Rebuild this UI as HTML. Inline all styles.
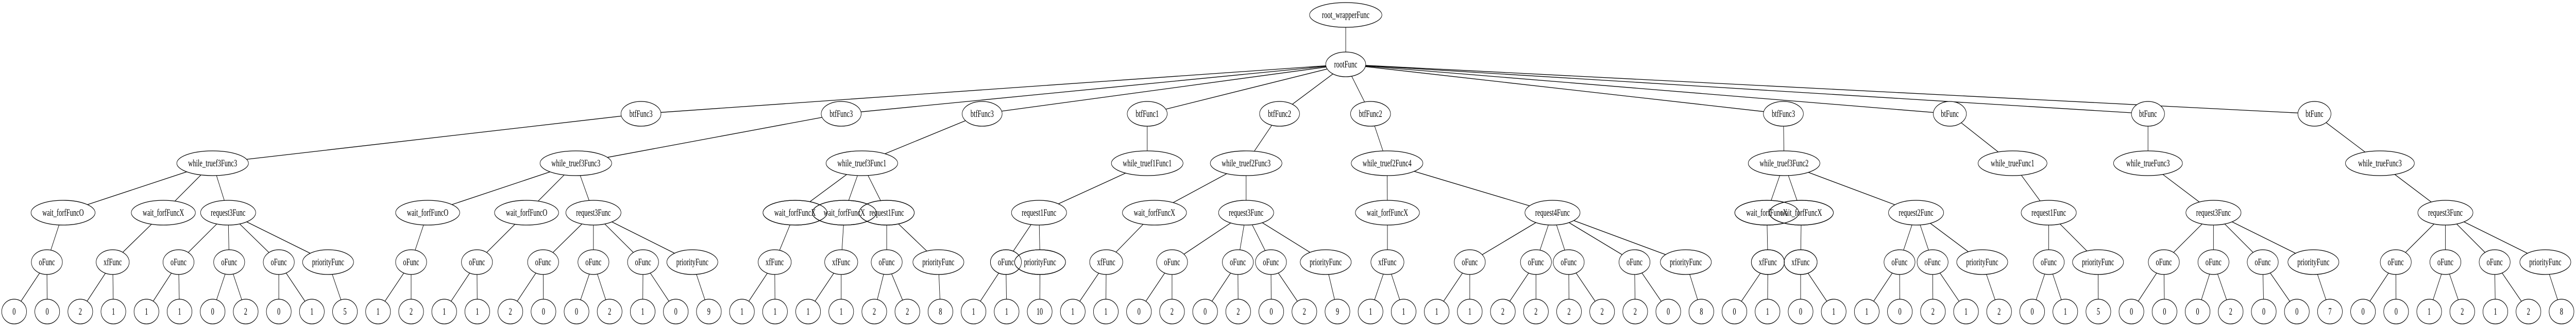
<!DOCTYPE html>
<html><head><meta charset="utf-8"><style>
html,body{margin:0;padding:0;background:#fff;width:100%;height:100%;overflow:hidden}
svg{display:block;width:100vw;height:100vh}
</style></head><body>
<svg xmlns="http://www.w3.org/2000/svg" viewBox="0 0 7475 635" preserveAspectRatio="none">
<rect width="7475" height="635" fill="#fff"/>
<g stroke="#000" stroke-width="1.3">
<line x1="3905" y1="29" x2="3905" y2="125"/>
<line x1="3905" y1="125" x2="1860" y2="221"/><line x1="3905" y1="125" x2="2441" y2="221"/><line x1="3905" y1="125" x2="2850" y2="221"/><line x1="3905" y1="125" x2="3329" y2="221"/><line x1="3905" y1="125" x2="3713" y2="221"/><line x1="3905" y1="125" x2="3977" y2="221"/><line x1="3905" y1="125" x2="5175" y2="221"/><line x1="3905" y1="125" x2="5658" y2="221"/><line x1="3905" y1="125" x2="6233" y2="221"/><line x1="3905" y1="125" x2="6716" y2="221"/>
<line x1="1860" y1="221" x2="617" y2="317"/><line x1="2441" y1="221" x2="1671" y2="317"/><line x1="2850" y1="221" x2="2501" y2="317"/><line x1="3329" y1="221" x2="3329" y2="317"/><line x1="3713" y1="221" x2="3616" y2="317"/><line x1="3977" y1="221" x2="4025" y2="317"/><line x1="5175" y1="221" x2="5177" y2="317"/><line x1="5658" y1="221" x2="5840" y2="317"/><line x1="6233" y1="221" x2="6233" y2="317"/><line x1="6716" y1="221" x2="6906" y2="317"/>
<line x1="617" y1="317" x2="183" y2="413"/><line x1="617" y1="317" x2="474" y2="413"/><line x1="617" y1="317" x2="662" y2="413"/>
<line x1="1671" y1="317" x2="1241" y2="413"/><line x1="1671" y1="317" x2="1528" y2="413"/><line x1="1671" y1="317" x2="1722" y2="413"/>
<line x1="2501" y1="317" x2="2307" y2="413"/><line x1="2501" y1="317" x2="2450" y2="413"/><line x1="2501" y1="317" x2="2573" y2="413"/>
<line x1="3329" y1="317" x2="3015" y2="413"/>
<line x1="3616" y1="317" x2="3350" y2="413"/><line x1="3616" y1="317" x2="3616" y2="413"/>
<line x1="4025" y1="317" x2="4026" y2="413"/><line x1="4025" y1="317" x2="4505" y2="413"/>
<line x1="5177" y1="317" x2="5127" y2="413"/><line x1="5177" y1="317" x2="5227" y2="413"/><line x1="5177" y1="317" x2="5560" y2="413"/>
<line x1="5840" y1="317" x2="5945" y2="413"/><line x1="6233" y1="317" x2="6423" y2="413"/><line x1="6906" y1="317" x2="7096" y2="413"/>
<line x1="183" y1="413" x2="136" y2="509"/><line x1="474" y1="413" x2="327" y2="509"/>
<line x1="662" y1="413" x2="518" y2="509"/><line x1="662" y1="413" x2="665" y2="509"/><line x1="662" y1="413" x2="809" y2="509"/><line x1="662" y1="413" x2="952" y2="509"/>
<line x1="1241" y1="413" x2="1193" y2="509"/><line x1="1528" y1="413" x2="1384" y2="509"/>
<line x1="1722" y1="413" x2="1576" y2="509"/><line x1="1722" y1="413" x2="1722" y2="509"/><line x1="1722" y1="413" x2="1866" y2="509"/><line x1="1722" y1="413" x2="2009" y2="509"/>
<line x1="2307" y1="413" x2="2248" y2="509"/><line x1="2450" y1="413" x2="2441" y2="509"/>
<line x1="2573" y1="413" x2="2573" y2="509"/><line x1="2573" y1="413" x2="2723" y2="509"/>
<line x1="3015" y1="413" x2="2919" y2="509"/><line x1="3015" y1="413" x2="3018" y2="509"/>
<line x1="3350" y1="413" x2="3210" y2="509"/>
<line x1="3616" y1="413" x2="3401" y2="509"/><line x1="3616" y1="413" x2="3592" y2="509"/><line x1="3616" y1="413" x2="3688" y2="509"/><line x1="3616" y1="413" x2="3847" y2="509"/>
<line x1="4026" y1="413" x2="4026" y2="509"/>
<line x1="4505" y1="413" x2="4265" y2="509"/><line x1="4505" y1="413" x2="4457" y2="509"/><line x1="4505" y1="413" x2="4552" y2="509"/><line x1="4505" y1="413" x2="4743" y2="509"/><line x1="4505" y1="413" x2="4892" y2="509"/>
<line x1="5127" y1="413" x2="5130" y2="509"/><line x1="5227" y1="413" x2="5225" y2="509"/>
<line x1="5560" y1="413" x2="5512" y2="509"/><line x1="5560" y1="413" x2="5608" y2="509"/><line x1="5560" y1="413" x2="5752" y2="509"/>
<line x1="5945" y1="413" x2="5945" y2="509"/><line x1="5945" y1="413" x2="6088" y2="509"/>
<line x1="6423" y1="413" x2="6279" y2="509"/><line x1="6423" y1="413" x2="6423" y2="509"/><line x1="6423" y1="413" x2="6566" y2="509"/><line x1="6423" y1="413" x2="6713" y2="509"/>
<line x1="7096" y1="413" x2="6952" y2="509"/><line x1="7096" y1="413" x2="7096" y2="509"/><line x1="7096" y1="413" x2="7239" y2="509"/><line x1="7096" y1="413" x2="7386" y2="509"/>
<line x1="136" y1="509" x2="41" y2="605"/><line x1="136" y1="509" x2="137" y2="605"/>
<line x1="327" y1="509" x2="233" y2="605"/><line x1="327" y1="509" x2="329" y2="605"/>
<line x1="518" y1="509" x2="425" y2="605"/><line x1="518" y1="509" x2="521" y2="605"/>
<line x1="665" y1="509" x2="617" y2="605"/><line x1="665" y1="509" x2="713" y2="605"/>
<line x1="809" y1="509" x2="809" y2="605"/><line x1="809" y1="509" x2="905" y2="605"/>
<line x1="952" y1="509" x2="1001" y2="605"/>
<line x1="1193" y1="509" x2="1097" y2="605"/><line x1="1193" y1="509" x2="1193" y2="605"/>
<line x1="1384" y1="509" x2="1289" y2="605"/><line x1="1384" y1="509" x2="1385" y2="605"/>
<line x1="1576" y1="509" x2="1481" y2="605"/><line x1="1576" y1="509" x2="1577" y2="605"/>
<line x1="1722" y1="509" x2="1673" y2="605"/><line x1="1722" y1="509" x2="1769" y2="605"/>
<line x1="1866" y1="509" x2="1865" y2="605"/><line x1="1866" y1="509" x2="1961" y2="605"/>
<line x1="2009" y1="509" x2="2057" y2="605"/>
<line x1="2248" y1="509" x2="2153" y2="605"/><line x1="2248" y1="509" x2="2249" y2="605"/>
<line x1="2441" y1="509" x2="2345" y2="605"/><line x1="2441" y1="509" x2="2441" y2="605"/>
<line x1="2573" y1="509" x2="2537" y2="605"/><line x1="2573" y1="509" x2="2633" y2="605"/>
<line x1="2723" y1="509" x2="2729" y2="605"/>
<line x1="2919" y1="509" x2="2825" y2="605"/><line x1="2919" y1="509" x2="2921" y2="605"/>
<line x1="3018" y1="509" x2="3017" y2="605"/>
<line x1="3210" y1="509" x2="3113" y2="605"/><line x1="3210" y1="509" x2="3209" y2="605"/>
<line x1="3401" y1="509" x2="3305" y2="605"/><line x1="3401" y1="509" x2="3401" y2="605"/>
<line x1="3592" y1="509" x2="3497" y2="605"/><line x1="3592" y1="509" x2="3593" y2="605"/>
<line x1="3688" y1="509" x2="3689" y2="605"/><line x1="3688" y1="509" x2="3785" y2="605"/>
<line x1="3847" y1="509" x2="3881" y2="605"/>
<line x1="4026" y1="509" x2="3977" y2="605"/><line x1="4026" y1="509" x2="4073" y2="605"/>
<line x1="4265" y1="509" x2="4169" y2="605"/><line x1="4265" y1="509" x2="4265" y2="605"/>
<line x1="4457" y1="509" x2="4361" y2="605"/><line x1="4457" y1="509" x2="4457" y2="605"/>
<line x1="4552" y1="509" x2="4553" y2="605"/><line x1="4552" y1="509" x2="4649" y2="605"/>
<line x1="4743" y1="509" x2="4745" y2="605"/><line x1="4743" y1="509" x2="4841" y2="605"/>
<line x1="4892" y1="509" x2="4937" y2="605"/>
<line x1="5130" y1="509" x2="5033" y2="605"/><line x1="5130" y1="509" x2="5129" y2="605"/>
<line x1="5225" y1="509" x2="5225" y2="605"/><line x1="5225" y1="509" x2="5321" y2="605"/>
<line x1="5512" y1="509" x2="5417" y2="605"/><line x1="5512" y1="509" x2="5513" y2="605"/>
<line x1="5608" y1="509" x2="5609" y2="605"/><line x1="5608" y1="509" x2="5705" y2="605"/>
<line x1="5752" y1="509" x2="5801" y2="605"/>
<line x1="5945" y1="509" x2="5897" y2="605"/><line x1="5945" y1="509" x2="5993" y2="605"/>
<line x1="6088" y1="509" x2="6089" y2="605"/>
<line x1="6279" y1="509" x2="6185" y2="605"/><line x1="6279" y1="509" x2="6281" y2="605"/>
<line x1="6423" y1="509" x2="6377" y2="605"/><line x1="6423" y1="509" x2="6473" y2="605"/>
<line x1="6566" y1="509" x2="6569" y2="605"/><line x1="6566" y1="509" x2="6665" y2="605"/>
<line x1="6713" y1="509" x2="6761" y2="605"/>
<line x1="6952" y1="509" x2="6857" y2="605"/><line x1="6952" y1="509" x2="6953" y2="605"/>
<line x1="7096" y1="509" x2="7049" y2="605"/><line x1="7096" y1="509" x2="7145" y2="605"/>
<line x1="7239" y1="509" x2="7241" y2="605"/><line x1="7239" y1="509" x2="7337" y2="605"/>
<line x1="7386" y1="509" x2="7433" y2="605"/>
</g>
<g fill="#fff" stroke="#000" stroke-width="1.3">
<ellipse cx="3905" cy="29" rx="105" ry="24"/>
<ellipse cx="3905" cy="125" rx="58" ry="24"/>
<ellipse cx="1860" cy="221" rx="58" ry="24"/><ellipse cx="2441" cy="221" rx="58" ry="24"/><ellipse cx="2850" cy="221" rx="58" ry="24"/><ellipse cx="3329" cy="221" rx="58" ry="24"/><ellipse cx="3713" cy="221" rx="58" ry="24"/><ellipse cx="3977" cy="221" rx="58" ry="24"/><ellipse cx="5175" cy="221" rx="58" ry="24"/><ellipse cx="5658" cy="221" rx="48" ry="24"/><ellipse cx="6233" cy="221" rx="48" ry="24"/><ellipse cx="6716" cy="221" rx="48" ry="24"/>
<ellipse cx="617" cy="317" rx="104" ry="24"/><ellipse cx="1671" cy="317" rx="104" ry="24"/><ellipse cx="2501" cy="317" rx="104" ry="24"/><ellipse cx="3329" cy="317" rx="104" ry="24"/><ellipse cx="3616" cy="317" rx="104" ry="24"/><ellipse cx="4025" cy="317" rx="104" ry="24"/><ellipse cx="5177" cy="317" rx="104" ry="24"/><ellipse cx="5840" cy="317" rx="100" ry="24"/><ellipse cx="6233" cy="317" rx="100" ry="24"/><ellipse cx="6906" cy="317" rx="100" ry="24"/>
<ellipse cx="183" cy="413" rx="93" ry="24"/><ellipse cx="474" cy="413" rx="93" ry="24"/><ellipse cx="662" cy="413" rx="80" ry="24"/>
<ellipse cx="1241" cy="413" rx="93" ry="24"/><ellipse cx="1528" cy="413" rx="93" ry="24"/><ellipse cx="1722" cy="413" rx="80" ry="24"/>
<ellipse cx="2307" cy="413" rx="93" ry="24"/><ellipse cx="2450" cy="413" rx="93" ry="24"/><ellipse cx="2573" cy="413" rx="80" ry="24"/>
<ellipse cx="3015" cy="413" rx="80" ry="24"/><ellipse cx="3350" cy="413" rx="93" ry="24"/><ellipse cx="3616" cy="413" rx="80" ry="24"/>
<ellipse cx="4026" cy="413" rx="93" ry="24"/><ellipse cx="4505" cy="413" rx="80" ry="24"/>
<ellipse cx="5127" cy="413" rx="93" ry="24"/><ellipse cx="5227" cy="413" rx="93" ry="24"/><ellipse cx="5560" cy="413" rx="80" ry="24"/>
<ellipse cx="5945" cy="413" rx="80" ry="24"/><ellipse cx="6423" cy="413" rx="80" ry="24"/><ellipse cx="7096" cy="413" rx="80" ry="24"/>
<ellipse cx="136" cy="509" rx="45" ry="24"/><ellipse cx="327" cy="509" rx="48" ry="24"/><ellipse cx="518" cy="509" rx="45" ry="24"/><ellipse cx="665" cy="509" rx="45" ry="24"/><ellipse cx="809" cy="509" rx="45" ry="24"/><ellipse cx="952" cy="509" rx="74" ry="24"/>
<ellipse cx="1193" cy="509" rx="45" ry="24"/><ellipse cx="1384" cy="509" rx="45" ry="24"/><ellipse cx="1576" cy="509" rx="45" ry="24"/><ellipse cx="1722" cy="509" rx="45" ry="24"/><ellipse cx="1866" cy="509" rx="45" ry="24"/><ellipse cx="2009" cy="509" rx="74" ry="24"/>
<ellipse cx="2248" cy="509" rx="48" ry="24"/><ellipse cx="2441" cy="509" rx="48" ry="24"/><ellipse cx="2573" cy="509" rx="45" ry="24"/><ellipse cx="2723" cy="509" rx="74" ry="24"/>
<ellipse cx="2919" cy="509" rx="45" ry="24"/><ellipse cx="3018" cy="509" rx="74" ry="24"/><ellipse cx="3210" cy="509" rx="48" ry="24"/>
<ellipse cx="3401" cy="509" rx="45" ry="24"/><ellipse cx="3592" cy="509" rx="45" ry="24"/><ellipse cx="3688" cy="509" rx="45" ry="24"/><ellipse cx="3847" cy="509" rx="74" ry="24"/>
<ellipse cx="4026" cy="509" rx="48" ry="24"/><ellipse cx="4265" cy="509" rx="45" ry="24"/><ellipse cx="4457" cy="509" rx="45" ry="24"/><ellipse cx="4552" cy="509" rx="45" ry="24"/><ellipse cx="4743" cy="509" rx="45" ry="24"/><ellipse cx="4892" cy="509" rx="74" ry="24"/>
<ellipse cx="5130" cy="509" rx="48" ry="24"/><ellipse cx="5225" cy="509" rx="48" ry="24"/><ellipse cx="5512" cy="509" rx="45" ry="24"/><ellipse cx="5608" cy="509" rx="45" ry="24"/><ellipse cx="5752" cy="509" rx="74" ry="24"/>
<ellipse cx="5945" cy="509" rx="45" ry="24"/><ellipse cx="6088" cy="509" rx="74" ry="24"/>
<ellipse cx="6279" cy="509" rx="45" ry="24"/><ellipse cx="6423" cy="509" rx="45" ry="24"/><ellipse cx="6566" cy="509" rx="45" ry="24"/><ellipse cx="6713" cy="509" rx="74" ry="24"/>
<ellipse cx="6952" cy="509" rx="45" ry="24"/><ellipse cx="7096" cy="509" rx="45" ry="24"/><ellipse cx="7239" cy="509" rx="45" ry="24"/><ellipse cx="7386" cy="509" rx="74" ry="24"/>
</g>
<g fill="#fff" stroke="#000" stroke-width="1.3">
<ellipse cx="41" cy="605" rx="36" ry="24"/><ellipse cx="137" cy="605" rx="36" ry="24"/><ellipse cx="233" cy="605" rx="36" ry="24"/><ellipse cx="329" cy="605" rx="36" ry="24"/><ellipse cx="425" cy="605" rx="36" ry="24"/><ellipse cx="521" cy="605" rx="36" ry="24"/><ellipse cx="617" cy="605" rx="36" ry="24"/><ellipse cx="713" cy="605" rx="36" ry="24"/><ellipse cx="809" cy="605" rx="36" ry="24"/><ellipse cx="905" cy="605" rx="36" ry="24"/>
<ellipse cx="1001" cy="605" rx="36" ry="24"/><ellipse cx="1097" cy="605" rx="36" ry="24"/><ellipse cx="1193" cy="605" rx="36" ry="24"/><ellipse cx="1289" cy="605" rx="36" ry="24"/><ellipse cx="1385" cy="605" rx="36" ry="24"/><ellipse cx="1481" cy="605" rx="36" ry="24"/><ellipse cx="1577" cy="605" rx="36" ry="24"/><ellipse cx="1673" cy="605" rx="36" ry="24"/><ellipse cx="1769" cy="605" rx="36" ry="24"/><ellipse cx="1865" cy="605" rx="36" ry="24"/>
<ellipse cx="1961" cy="605" rx="36" ry="24"/><ellipse cx="2057" cy="605" rx="36" ry="24"/><ellipse cx="2153" cy="605" rx="36" ry="24"/><ellipse cx="2249" cy="605" rx="36" ry="24"/><ellipse cx="2345" cy="605" rx="36" ry="24"/><ellipse cx="2441" cy="605" rx="36" ry="24"/><ellipse cx="2537" cy="605" rx="36" ry="24"/><ellipse cx="2633" cy="605" rx="36" ry="24"/><ellipse cx="2729" cy="605" rx="36" ry="24"/><ellipse cx="2825" cy="605" rx="36" ry="24"/>
<ellipse cx="2921" cy="605" rx="36" ry="24"/><ellipse cx="3017" cy="605" rx="36" ry="24"/><ellipse cx="3113" cy="605" rx="36" ry="24"/><ellipse cx="3209" cy="605" rx="36" ry="24"/><ellipse cx="3305" cy="605" rx="36" ry="24"/><ellipse cx="3401" cy="605" rx="36" ry="24"/><ellipse cx="3497" cy="605" rx="36" ry="24"/><ellipse cx="3593" cy="605" rx="36" ry="24"/><ellipse cx="3689" cy="605" rx="36" ry="24"/><ellipse cx="3785" cy="605" rx="36" ry="24"/>
<ellipse cx="3881" cy="605" rx="36" ry="24"/><ellipse cx="3977" cy="605" rx="36" ry="24"/><ellipse cx="4073" cy="605" rx="36" ry="24"/><ellipse cx="4169" cy="605" rx="36" ry="24"/><ellipse cx="4265" cy="605" rx="36" ry="24"/><ellipse cx="4361" cy="605" rx="36" ry="24"/><ellipse cx="4457" cy="605" rx="36" ry="24"/><ellipse cx="4553" cy="605" rx="36" ry="24"/><ellipse cx="4649" cy="605" rx="36" ry="24"/><ellipse cx="4745" cy="605" rx="36" ry="24"/>
<ellipse cx="4841" cy="605" rx="36" ry="24"/><ellipse cx="4937" cy="605" rx="36" ry="24"/><ellipse cx="5033" cy="605" rx="36" ry="24"/><ellipse cx="5129" cy="605" rx="36" ry="24"/><ellipse cx="5225" cy="605" rx="36" ry="24"/><ellipse cx="5321" cy="605" rx="36" ry="24"/><ellipse cx="5417" cy="605" rx="36" ry="24"/><ellipse cx="5513" cy="605" rx="36" ry="24"/><ellipse cx="5609" cy="605" rx="36" ry="24"/><ellipse cx="5705" cy="605" rx="36" ry="24"/>
<ellipse cx="5801" cy="605" rx="36" ry="24"/><ellipse cx="5897" cy="605" rx="36" ry="24"/><ellipse cx="5993" cy="605" rx="36" ry="24"/><ellipse cx="6089" cy="605" rx="36" ry="24"/><ellipse cx="6185" cy="605" rx="36" ry="24"/><ellipse cx="6281" cy="605" rx="36" ry="24"/><ellipse cx="6377" cy="605" rx="36" ry="24"/><ellipse cx="6473" cy="605" rx="36" ry="24"/><ellipse cx="6569" cy="605" rx="36" ry="24"/><ellipse cx="6665" cy="605" rx="36" ry="24"/>
<ellipse cx="6761" cy="605" rx="36" ry="24"/><ellipse cx="6857" cy="605" rx="36" ry="24"/><ellipse cx="6953" cy="605" rx="36" ry="24"/><ellipse cx="7049" cy="605" rx="36" ry="24"/><ellipse cx="7145" cy="605" rx="36" ry="24"/><ellipse cx="7241" cy="605" rx="36" ry="24"/><ellipse cx="7337" cy="605" rx="36" ry="24"/><ellipse cx="7433" cy="605" rx="36" ry="24"/>
</g>
<g fill="none" stroke="#000" stroke-width="1.3">
<ellipse cx="2307" cy="413" rx="93" ry="24"/><ellipse cx="2450" cy="413" rx="93" ry="24"/><ellipse cx="2573" cy="413" rx="80" ry="24"/>
<ellipse cx="5127" cy="413" rx="93" ry="24"/><ellipse cx="5227" cy="413" rx="93" ry="24"/>
<ellipse cx="2919" cy="509" rx="45" ry="24"/><ellipse cx="3018" cy="509" rx="74" ry="24"/>
<ellipse cx="5130" cy="509" rx="48" ry="24"/><ellipse cx="5225" cy="509" rx="48" ry="24"/>
</g>
<g font-family="'Liberation Serif', 'DejaVu Serif', serif" font-size="18.67" text-anchor="middle" fill="#000">
<text x="3905" y="35">root_wrapperFunc</text>
<text x="3905" y="131">rootFunc</text>
<text x="1860" y="227">btfFunc3</text><text x="2441" y="227">btfFunc3</text><text x="2850" y="227">btfFunc3</text><text x="3329" y="227">btfFunc1</text><text x="3713" y="227">btfFunc2</text><text x="3977" y="227">btfFunc2</text><text x="5175" y="227">btfFunc3</text><text x="5658" y="227">btFunc</text><text x="6233" y="227">btFunc</text><text x="6716" y="227">btFunc</text>
<text x="617" y="323">while_truef3Func3</text><text x="1671" y="323">while_truef3Func3</text><text x="2501" y="323">while_truef3Func1</text><text x="3329" y="323">while_truef1Func1</text><text x="3616" y="323">while_truef2Func3</text><text x="4025" y="323">while_truef2Func4</text><text x="5177" y="323">while_truef3Func2</text><text x="5840" y="323">while_trueFunc1</text><text x="6233" y="323">while_trueFunc3</text><text x="6906" y="323">while_trueFunc3</text>
<text x="183" y="419">wait_forfFuncO</text><text x="474" y="419">wait_forfFuncX</text><text x="662" y="419">request3Func</text>
<text x="1241" y="419">wait_forfFuncO</text><text x="1528" y="419">wait_forfFuncO</text><text x="1722" y="419">request3Func</text>
<text x="2307" y="419">wait_forfFuncX</text><text x="2450" y="419">wait_forfFuncX</text><text x="2573" y="419">request1Func</text>
<text x="3015" y="419">request1Func</text><text x="3350" y="419">wait_forfFuncX</text><text x="3616" y="419">request3Func</text>
<text x="4026" y="419">wait_forfFuncX</text><text x="4505" y="419">request4Func</text>
<text x="5127" y="419">wait_forfFuncX</text><text x="5227" y="419">wait_forfFuncX</text><text x="5560" y="419">request2Func</text>
<text x="5945" y="419">request1Func</text><text x="6423" y="419">request3Func</text><text x="7096" y="419">request3Func</text>
<text x="136" y="515">oFunc</text><text x="327" y="515">xfFunc</text><text x="518" y="515">oFunc</text><text x="665" y="515">oFunc</text><text x="809" y="515">oFunc</text><text x="952" y="515">priorityFunc</text>
<text x="1193" y="515">oFunc</text><text x="1384" y="515">oFunc</text><text x="1576" y="515">oFunc</text><text x="1722" y="515">oFunc</text><text x="1866" y="515">oFunc</text><text x="2009" y="515">priorityFunc</text>
<text x="2248" y="515">xfFunc</text><text x="2441" y="515">xfFunc</text><text x="2573" y="515">oFunc</text><text x="2723" y="515">priorityFunc</text>
<text x="2919" y="515">oFunc</text><text x="3018" y="515">priorityFunc</text><text x="3210" y="515">xfFunc</text>
<text x="3401" y="515">oFunc</text><text x="3592" y="515">oFunc</text><text x="3688" y="515">oFunc</text><text x="3847" y="515">priorityFunc</text>
<text x="4026" y="515">xfFunc</text><text x="4265" y="515">oFunc</text><text x="4457" y="515">oFunc</text><text x="4552" y="515">oFunc</text><text x="4743" y="515">oFunc</text><text x="4892" y="515">priorityFunc</text>
<text x="5130" y="515">xfFunc</text><text x="5225" y="515">xfFunc</text><text x="5512" y="515">oFunc</text><text x="5608" y="515">oFunc</text><text x="5752" y="515">priorityFunc</text>
<text x="5945" y="515">oFunc</text><text x="6088" y="515">priorityFunc</text>
<text x="6279" y="515">oFunc</text><text x="6423" y="515">oFunc</text><text x="6566" y="515">oFunc</text><text x="6713" y="515">priorityFunc</text>
<text x="6952" y="515">oFunc</text><text x="7096" y="515">oFunc</text><text x="7239" y="515">oFunc</text><text x="7386" y="515">priorityFunc</text>
<text x="41" y="611">0</text><text x="137" y="611">0</text><text x="233" y="611">2</text><text x="329" y="611">1</text><text x="425" y="611">1</text><text x="521" y="611">1</text><text x="617" y="611">0</text><text x="713" y="611">2</text><text x="809" y="611">0</text><text x="905" y="611">1</text>
<text x="1001" y="611">5</text><text x="1097" y="611">1</text><text x="1193" y="611">2</text><text x="1289" y="611">1</text><text x="1385" y="611">1</text><text x="1481" y="611">2</text><text x="1577" y="611">0</text><text x="1673" y="611">0</text><text x="1769" y="611">2</text><text x="1865" y="611">1</text>
<text x="1961" y="611">0</text><text x="2057" y="611">9</text><text x="2153" y="611">1</text><text x="2249" y="611">1</text><text x="2345" y="611">1</text><text x="2441" y="611">1</text><text x="2537" y="611">2</text><text x="2633" y="611">2</text><text x="2729" y="611">8</text><text x="2825" y="611">1</text>
<text x="2921" y="611">1</text><text x="3017" y="611">10</text><text x="3113" y="611">1</text><text x="3209" y="611">1</text><text x="3305" y="611">0</text><text x="3401" y="611">2</text><text x="3497" y="611">0</text><text x="3593" y="611">2</text><text x="3689" y="611">0</text><text x="3785" y="611">2</text>
<text x="3881" y="611">9</text><text x="3977" y="611">1</text><text x="4073" y="611">1</text><text x="4169" y="611">1</text><text x="4265" y="611">1</text><text x="4361" y="611">2</text><text x="4457" y="611">2</text><text x="4553" y="611">2</text><text x="4649" y="611">2</text><text x="4745" y="611">2</text>
<text x="4841" y="611">0</text><text x="4937" y="611">8</text><text x="5033" y="611">0</text><text x="5129" y="611">1</text><text x="5225" y="611">0</text><text x="5321" y="611">1</text><text x="5417" y="611">1</text><text x="5513" y="611">0</text><text x="5609" y="611">2</text><text x="5705" y="611">1</text>
<text x="5801" y="611">2</text><text x="5897" y="611">0</text><text x="5993" y="611">1</text><text x="6089" y="611">5</text><text x="6185" y="611">0</text><text x="6281" y="611">0</text><text x="6377" y="611">0</text><text x="6473" y="611">2</text><text x="6569" y="611">0</text><text x="6665" y="611">0</text>
<text x="6761" y="611">7</text><text x="6857" y="611">0</text><text x="6953" y="611">0</text><text x="7049" y="611">1</text><text x="7145" y="611">2</text><text x="7241" y="611">1</text><text x="7337" y="611">2</text><text x="7433" y="611">8</text>
</g>
</svg>
</body></html>
